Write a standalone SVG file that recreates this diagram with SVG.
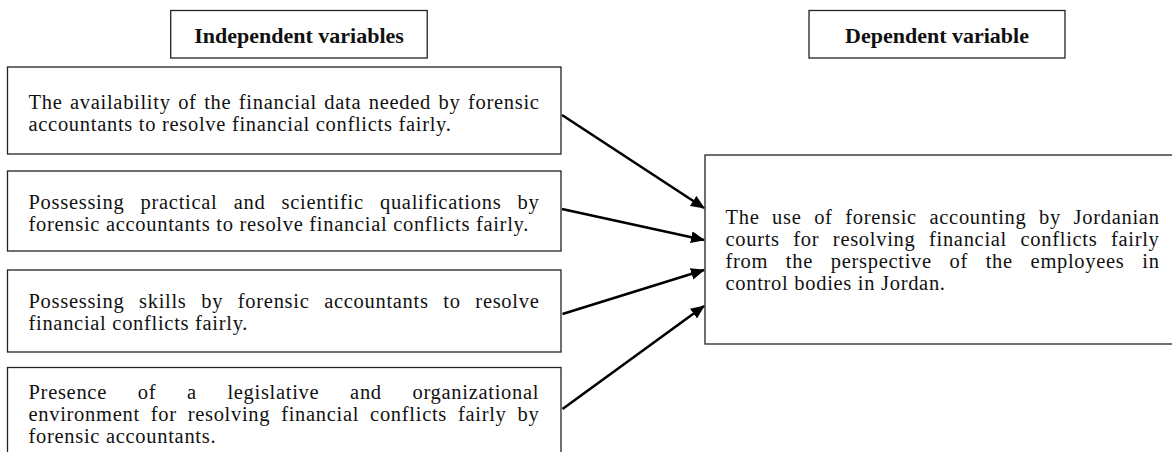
<svg xmlns="http://www.w3.org/2000/svg" width="1172" height="452" viewBox="0 0 1172 452">
<style>
  .box { fill: #ffffff; stroke: #222222; stroke-width: 1.3; }
  .hdr { font-family: "Liberation Serif", serif; font-weight: bold; font-size: 22px; fill: #111111; text-anchor: middle; }
  .txt { font-family: "Liberation Serif", serif; font-size: 20.5px; letter-spacing: 0.7px; fill: #111111; }
  .conn { stroke: #000000; stroke-width: 2.6; fill: none; marker-end: url(#arrow); }
</style>
<defs>
  <marker id="arrow" markerUnits="userSpaceOnUse" markerWidth="14" markerHeight="12" refX="13" refY="6" orient="auto">
    <path d="M0,0 L14,6 L0,12 Z" fill="#000000"/>
  </marker>
</defs>
<rect width="1172" height="452" fill="#ffffff"/>

<g id="header-independent">
  <rect class="box" x="170.7" y="10.5" width="256.5" height="47.5"/>
  <text class="hdr" x="299" y="42.5">Independent variables</text>
</g>

<g id="header-dependent">
  <rect class="box" x="809" y="10.5" width="256" height="47.5"/>
  <text class="hdr" x="937" y="42.5">Dependent variable</text>
</g>

<g id="iv1">
  <rect class="box" x="7.5" y="67" width="553.5" height="87"/>
  <text class="txt"><tspan x="28.5" y="108.5" style="word-spacing:1.7px">The availability of the financial data needed by forensic</tspan><tspan x="28.5" y="130.5">accountants to resolve financial conflicts fairly.</tspan></text>
</g>

<g id="iv2">
  <rect class="box" x="7.5" y="171" width="553.5" height="80"/>
  <text class="txt"><tspan x="28.5" y="208.5" style="word-spacing:10.4px">Possessing practical and scientific qualifications by</tspan><tspan x="28.5" y="230.5">forensic accountants to resolve financial conflicts fairly.</tspan></text>
</g>

<g id="iv3">
  <rect class="box" x="7.5" y="270" width="553.5" height="82"/>
  <text class="txt"><tspan x="28.5" y="308" style="word-spacing:8.87px">Possessing skills by forensic accountants to resolve</tspan><tspan x="28.5" y="330">financial conflicts fairly.</tspan></text>
</g>

<g id="iv4">
  <rect class="box" x="7.5" y="367.5" width="553.5" height="100"/>
  <text class="txt"><tspan x="28.5" y="398.5" style="word-spacing:24.9px">Presence of a legislative and organizational</tspan><tspan x="28.5" y="420.5" style="word-spacing:5.1px">environment for resolving financial conflicts fairly by</tspan><tspan x="28.5" y="442.5">forensic accountants.</tspan></text>
</g>

<g id="dv">
  <rect class="box" x="705" y="155" width="480" height="189"/>
  <text class="txt"><tspan x="725.5" y="224" style="word-spacing:6.8px">The use of forensic accounting by Jordanian</tspan><tspan x="725.5" y="246" style="word-spacing:7.7px">courts for resolving financial conflicts fairly</tspan><tspan x="725.5" y="268" style="word-spacing:11.9px">from the perspective of the employees in</tspan><tspan x="725.5" y="290">control bodies in Jordan.</tspan></text>
</g>

<g id="connectors">
  <line class="conn" x1="562" y1="115" x2="704" y2="208"/>
  <line class="conn" x1="562" y1="209" x2="704" y2="240"/>
  <line class="conn" x1="562.5" y1="314" x2="704" y2="270"/>
  <line class="conn" x1="562.5" y1="409" x2="704" y2="306"/>
</g>
</svg>
